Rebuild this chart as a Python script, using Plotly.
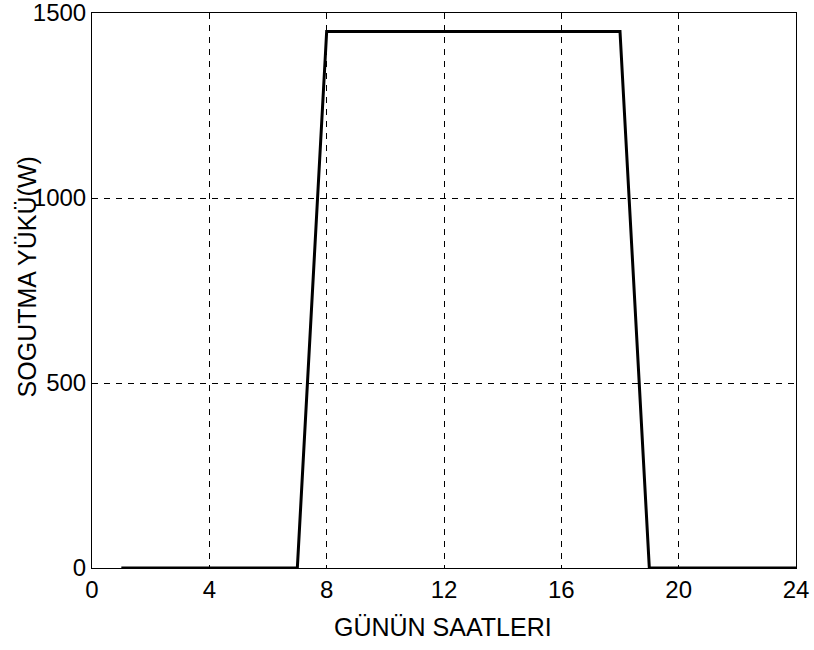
import plotly.graph_objects as go

# Hourly cooling load over one day
hours = list(range(1, 25))
load_w = [0, 0, 0, 0, 0, 0, 0,
          1450, 1450, 1450, 1450, 1450, 1450, 1450, 1450, 1450, 1450, 1450,
          0, 0, 0, 0, 0, 0]

x_ticks = [0, 4, 8, 12, 16, 20, 24]
y_ticks = [0, 500, 1000, 1500]

FONT = "Liberation Sans, Arial, Helvetica, sans-serif"

fig = go.Figure()
fig.add_trace(go.Scatter(
    x=hours, y=load_w, mode="lines",
    line=dict(color="black", width=3),
    showlegend=False,
))

axis_common = dict(
    showline=True, linecolor="black", linewidth=1, mirror=True,
    showgrid=True, gridcolor="black", gridwidth=1, griddash="6px,6px",
    zeroline=False, ticks="", automargin=False, ticklabeloverflow="allow",
    tickfont=dict(family=FONT, size=24, color="black"),
)

fig.update_xaxes(range=[0, 24], tickvals=x_ticks, ticktext=[str(v) for v in x_ticks],
                 **axis_common)
fig.update_yaxes(range=[0, 1500], tickvals=y_ticks, ticktext=[str(v) for v in y_ticks],
                 **axis_common)

fig.update_layout(
    width=814, height=650,
    margin=dict(l=92, r=18, t=13, b=82),
    plot_bgcolor="white", paper_bgcolor="white",
    font=dict(family=FONT, color="black"),
    annotations=[
        dict(text="GÜNÜN SAATLERI", xref="paper", yref="paper",
             x=0.498, y=-0.106, xanchor="center", yanchor="middle",
             showarrow=False, font=dict(family=FONT, size=25, color="black")),
        dict(text="SOGUTMA YÜKÜ(W)", xref="paper", yref="paper",
             x=-0.092, y=0.524, xanchor="center", yanchor="middle",
             textangle=-90, showarrow=False,
             font=dict(family=FONT, size=25, color="black")),
    ],
)

fig.write_html("out.html")
